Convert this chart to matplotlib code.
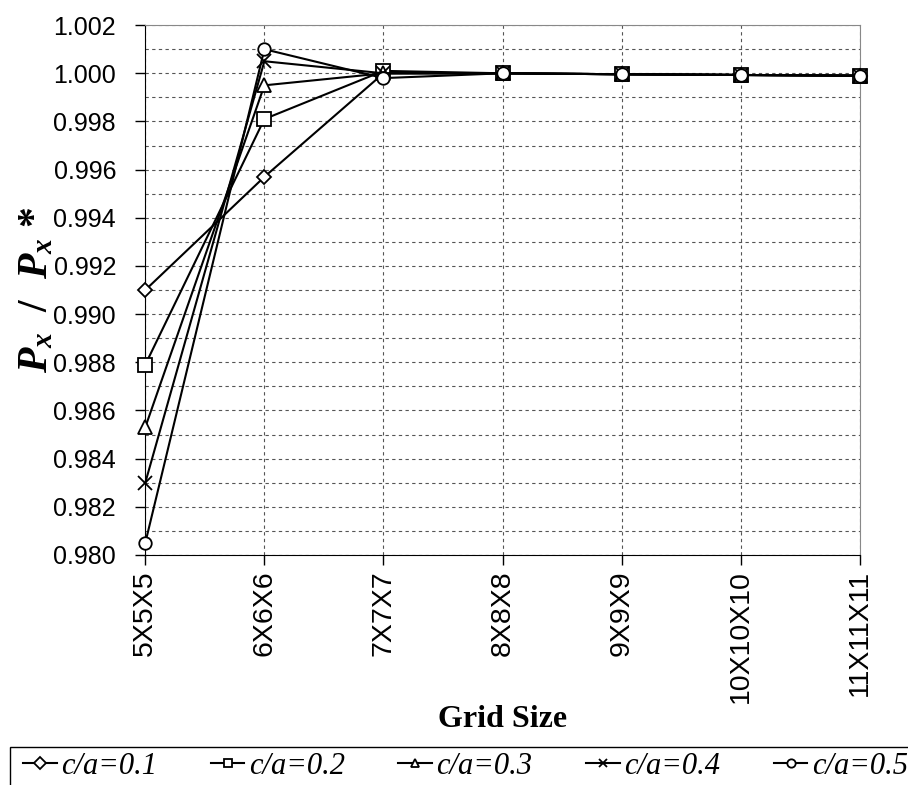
import matplotlib.pyplot as plt
from matplotlib.ticker import MultipleLocator
from matplotlib.patches import Rectangle

plt.rcParams['mathtext.fontset'] = 'custom'
plt.rcParams['mathtext.it'] = 'Liberation Serif:italic:bold'
plt.rcParams['mathtext.rm'] = 'Liberation Serif:bold'

grid_sizes = ['5X5X5', '6X6X6', '7X7X7', '8X8X8', '9X9X9', '10X10X10', '11X11X11']

ratio_01 = [0.9910, 0.9957, 1.0000, 1.0000, 0.99996, 0.99993, 0.99990]
ratio_02 = [0.9879, 0.9981, 1.0001, 1.0000, 0.99996, 0.99993, 0.99990]
ratio_03 = [0.9853, 0.9995, 1.0000, 1.0000, 0.99996, 0.99993, 0.99990]
ratio_04 = [0.9830, 1.0005, 1.0000, 1.0000, 0.99996, 0.99993, 0.99990]
ratio_05 = [0.9805, 1.0010, 0.9998, 1.0000, 0.99996, 0.99993, 0.99990]

labels = ['c/a=0.1', 'c/a=0.2', 'c/a=0.3', 'c/a=0.4', 'c/a=0.5']
series = [ratio_01, ratio_02, ratio_03, ratio_04, ratio_05]
markers = ['D', 's', '^', 'x', 'o']
msizes = [7, 10, 10, 10, 9]

fig = plt.figure(figsize=(9.08, 7.85), dpi=100)
ax = fig.add_axes([0.160, 0.293, 0.787, 0.675])

x = list(range(len(grid_sizes)))
for vals, lab, mk, ms in zip(series, labels, markers, msizes):
    ax.plot(x, vals, color='black', lw=1.5, marker=mk, ms=ms, clip_on=False, zorder=3,
            markerfacecolor='white', markeredgecolor='black', mew=1.3, label=lab)

ax.set_xlim(0, len(grid_sizes) - 1)
ax.yaxis.set_major_locator(MultipleLocator(0.002))
ax.yaxis.set_minor_locator(MultipleLocator(0.001))
ax.set_ylim(0.980, 1.002)
ax.yaxis.set_major_formatter(plt.FuncFormatter(lambda v, p: f'{v:.3f}'))
ax.set_xticks(x)
ax.set_xticklabels(grid_sizes, rotation=90)
for t in ax.get_yticklabels():
    t.set_family('Liberation Sans')
    t.set_fontsize(18)
for t in ax.get_xticklabels():
    t.set_family('Liberation Sans')
    t.set_fontsize(20.5)

ax.grid(True, which='both', axis='y', ls=(0, (3, 3)), lw=0.8, color='#555555')
ax.grid(True, which='major', axis='x', ls=(0, (3, 3)), lw=0.8, color='#555555')
ax.tick_params(which='major', direction='out', length=7, width=1)
ax.tick_params(axis='y', pad=14)
ax.tick_params(axis='x', pad=4)
ax.tick_params(which='minor', length=0)
for s in ['top', 'right']:
    ax.spines[s].set_color('#888888')

ax.set_xlabel('Grid Size', family='Liberation Serif', fontweight='bold', fontsize=23)
ax.xaxis.set_label_coords(0.5, -0.283)
ax.set_ylabel(r'$P_x$  /  $P_x$ *', family='Liberation Serif', fontweight='bold', fontsize=30)
ax.yaxis.set_label_coords(-0.125, 0.5)

# legend box runs off the right edge like the scanned original
fig.patches.append(Rectangle((0.011, -0.01), 1.0, 0.059, transform=fig.transFigure,
                             fill=False, edgecolor='black', lw=1.0))
leg = fig.legend(loc='center left', bbox_to_anchor=(0.022, 0.024), ncol=5, frameon=False,
                 prop={'family': 'Liberation Serif', 'style': 'italic', 'size': 22},
                 handlelength=1.1, columnspacing=1.75, handletextpad=0.15,
                 borderaxespad=0.0, borderpad=0.1)
for h in leg.legend_handles:
    h.set_markersize(6)

fig.savefig('out.png', dpi=100)
